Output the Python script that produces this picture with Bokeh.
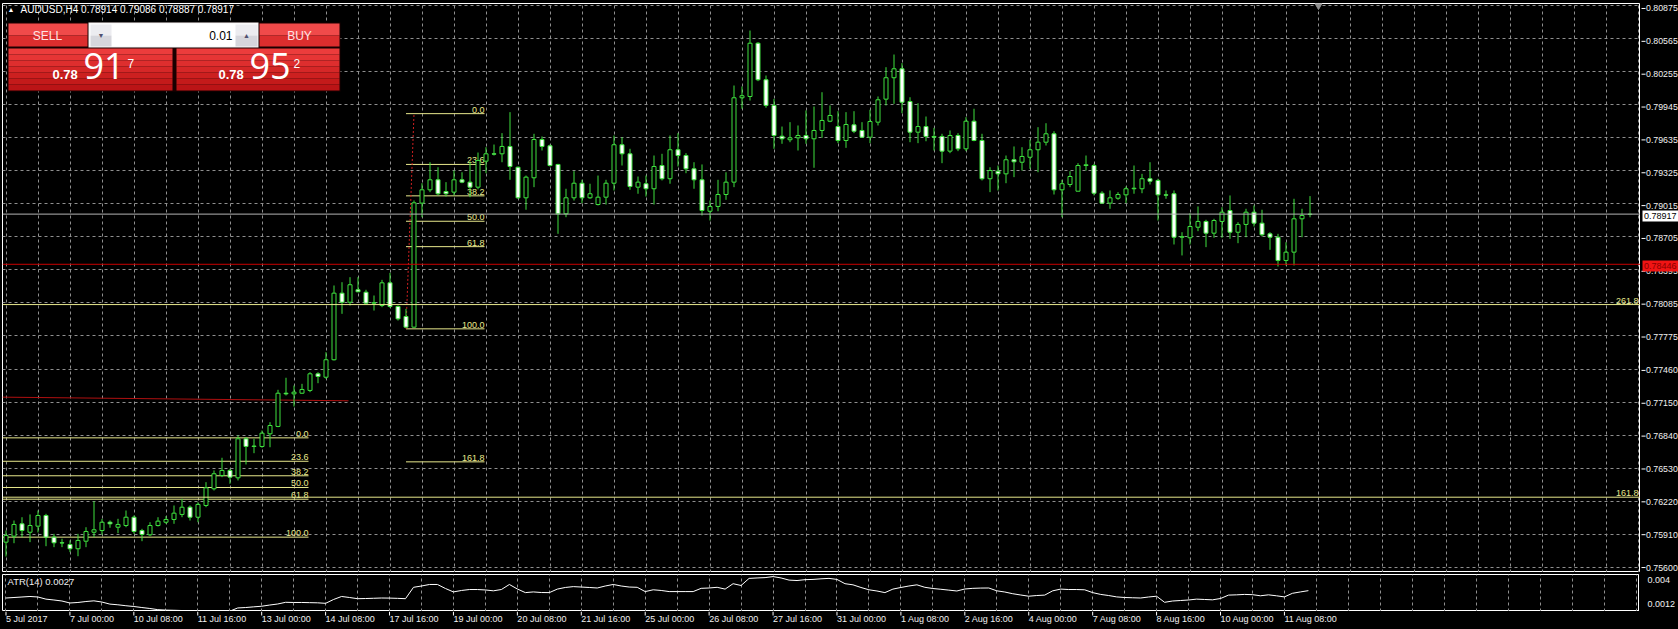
from bokeh.plotting import figure
from bokeh.layouts import column, row
from bokeh.models import (ColumnDataSource, FixedTicker, Label, BoxAnnotation, Span,
                          Range1d, PrintfTickFormatter, GlobalInlineStyleSheet)
from bokeh.core.properties import value
from bokeh.embed import file_html
from bokeh.resources import INLINE

# ---------------- data (AUDUSD H4, 5 Jul 2017 16:00 .. 11 Aug 2017 12:00) ----------------
open_ = [0.75838, 0.75894, 0.76010, 0.75931, 0.75988, 0.76088, 0.75885, 0.75832, 0.75816, 0.75776,
         0.75847, 0.75931, 0.75947, 0.76025, 0.75978, 0.75994, 0.76072, 0.75947, 0.75907, 0.75994,
         0.76025, 0.76051, 0.76098, 0.76166, 0.76072, 0.76182, 0.76339, 0.76464, 0.76511, 0.76442,
         0.76808, 0.76736, 0.76736, 0.76855, 0.76924, 0.77236, 0.77230, 0.77236, 0.77262, 0.77418,
         0.77386, 0.77550, 0.78175, 0.78090, 0.78207, 0.78184, 0.78081, 0.78059, 0.78272, 0.78050,
         0.77956, 0.77856, 0.79020, 0.79145, 0.79239, 0.79129, 0.79123, 0.79239, 0.79217, 0.79170,
         0.79414, 0.79483, 0.79483, 0.79552, 0.79357, 0.79070, 0.79258, 0.79617, 0.79558, 0.79383,
         0.78920, 0.79070, 0.79207, 0.79070, 0.79007, 0.79076, 0.79207, 0.79568, 0.79483, 0.79170,
         0.79202, 0.79155, 0.79373, 0.79249, 0.79521, 0.79467, 0.79342, 0.79239, 0.78944, 0.78989,
         0.79101, 0.79217, 0.80009, 0.80021, 0.80521, 0.80178, 0.79937, 0.79648, 0.79615, 0.79633,
         0.79655, 0.79624, 0.79702, 0.79789, 0.79739, 0.79608, 0.79755, 0.79702, 0.79639, 0.79780,
         0.79996, 0.80197, 0.80281, 0.79974, 0.79686, 0.79739, 0.79646, 0.79646, 0.79508, 0.79655,
         0.79530, 0.79789, 0.79608, 0.79249, 0.79320, 0.79295, 0.79427, 0.79404, 0.79451, 0.79521,
         0.79592, 0.79671, 0.79145, 0.79195, 0.79132, 0.79373, 0.79373, 0.79113, 0.79020, 0.79066,
         0.79098, 0.79155, 0.79155, 0.79249, 0.79233, 0.79098, 0.79108, 0.78700, 0.78695, 0.78794,
         0.78848, 0.78738, 0.78848, 0.78951, 0.78747, 0.78820, 0.78935, 0.78832, 0.78732, 0.78700,
         0.78482, 0.78560, 0.78873, 0.78914]
high = [0.75947, 0.76041, 0.76072, 0.76098, 0.76135, 0.76104, 0.75916, 0.75870, 0.75854, 0.75916,
        0.75978, 0.76222, 0.76057, 0.76041, 0.76057, 0.76135, 0.76088, 0.75963, 0.76025, 0.76072,
        0.76082, 0.76182, 0.76245, 0.76182, 0.76213, 0.76401, 0.76511, 0.76630, 0.76527, 0.76839,
        0.76823, 0.76808, 0.76886, 0.76964, 0.77268, 0.77381, 0.77308, 0.77324, 0.77433, 0.77433,
        0.77621, 0.78247, 0.78278, 0.78325, 0.78325, 0.78207, 0.78153, 0.78300, 0.78366, 0.78059,
        0.78028, 0.79045, 0.79207, 0.79404, 0.79357, 0.79217, 0.79326, 0.79310, 0.79411, 0.79495,
        0.79545, 0.79570, 0.79677, 0.79874, 0.79364, 0.79279, 0.79671, 0.79646, 0.79570, 0.79389,
        0.79155, 0.79320, 0.79239, 0.79202, 0.79279, 0.79239, 0.79655, 0.79639, 0.79530, 0.79270,
        0.79279, 0.79467, 0.79483, 0.79655, 0.79677, 0.79489, 0.79404, 0.79383, 0.79045, 0.79239,
        0.79310, 0.80124, 0.80115, 0.80640, 0.80531, 0.80218, 0.79999, 0.79739, 0.79780, 0.79749,
        0.79890, 0.79927, 0.80061, 0.79937, 0.79883, 0.79874, 0.79883, 0.79780, 0.79896, 0.80021,
        0.80296, 0.80415, 0.80334, 0.80014, 0.79958, 0.79833, 0.79727, 0.79671, 0.79702, 0.79677,
        0.79827, 0.79906, 0.79671, 0.79357, 0.79373, 0.79467, 0.79552, 0.79545, 0.79615, 0.79733,
        0.79770, 0.79695, 0.79239, 0.79320, 0.79395, 0.79467, 0.79389, 0.79132, 0.79139, 0.79123,
        0.79176, 0.79373, 0.79295, 0.79404, 0.79249, 0.79139, 0.79139, 0.78747, 0.78926, 0.78989,
        0.78864, 0.78873, 0.78982, 0.79092, 0.78841, 0.78967, 0.78998, 0.78958, 0.78747, 0.78732,
        0.78653, 0.79061, 0.78967, 0.79086]
low = [0.75703, 0.75828, 0.75885, 0.75838, 0.75929, 0.75800, 0.75791, 0.75791, 0.75744, 0.75706,
       0.75791, 0.75885, 0.75907, 0.75973, 0.75922, 0.75978, 0.75916, 0.75847, 0.75894, 0.75985,
       0.76010, 0.76010, 0.76072, 0.76041, 0.76025, 0.76166, 0.76323, 0.76448, 0.76386, 0.76417,
       0.76567, 0.76673, 0.76724, 0.76729, 0.76917, 0.77215, 0.77111, 0.77231, 0.77246, 0.77330,
       0.77371, 0.77543, 0.77981, 0.78059, 0.78184, 0.78075, 0.78012, 0.78043, 0.78038, 0.77918,
       0.77850, 0.77850, 0.78888, 0.79123, 0.79092, 0.79082, 0.79092, 0.79207, 0.79076, 0.79150,
       0.79301, 0.79467, 0.79404, 0.79239, 0.79061, 0.78958, 0.79170, 0.79514, 0.79364, 0.78732,
       0.78888, 0.79045, 0.79020, 0.79061, 0.78998, 0.79007, 0.79139, 0.79373, 0.79145, 0.79108,
       0.79082, 0.79007, 0.79233, 0.79202, 0.79364, 0.79301, 0.79155, 0.78904, 0.78857, 0.78944,
       0.79051, 0.79170, 0.79906, 0.79983, 0.80165, 0.79915, 0.79530, 0.79577, 0.79592, 0.79514,
       0.79577, 0.79352, 0.79633, 0.79780, 0.79583, 0.79539, 0.79677, 0.79633, 0.79583, 0.79749,
       0.79937, 0.79952, 0.79864, 0.79592, 0.79583, 0.79601, 0.79514, 0.79395, 0.79489, 0.79508,
       0.79508, 0.79601, 0.79233, 0.79123, 0.79139, 0.79207, 0.79264, 0.79326, 0.79342, 0.79310,
       0.79561, 0.79101, 0.78888, 0.79170, 0.79132, 0.79326, 0.79092, 0.79020, 0.78967, 0.79051,
       0.79020, 0.79108, 0.79113, 0.79195, 0.78857, 0.79061, 0.78632, 0.78529, 0.78632, 0.78757,
       0.78607, 0.78695, 0.78695, 0.78685, 0.78644, 0.78700, 0.78801, 0.78707, 0.78582, 0.78425,
       0.78435, 0.78435, 0.78700, 0.78887]
close = [0.75901, 0.76004, 0.75947, 0.75994, 0.76088, 0.75885, 0.75832, 0.75830, 0.75776, 0.75854,
         0.75938, 0.75954, 0.76025, 0.76010, 0.76004, 0.76072, 0.75938, 0.75910, 0.75994, 0.76035,
         0.76051, 0.76110, 0.76166, 0.76072, 0.76192, 0.76348, 0.76480, 0.76511, 0.76448, 0.76808,
         0.76736, 0.76740, 0.76861, 0.76933, 0.77236, 0.77230, 0.77246, 0.77271, 0.77418, 0.77393,
         0.77550, 0.78175, 0.78090, 0.78254, 0.78188, 0.78081, 0.78085, 0.78272, 0.78050, 0.77934,
         0.77856, 0.79023, 0.79145, 0.79239, 0.79108, 0.79108, 0.79239, 0.79217, 0.79170, 0.79420,
         0.79483, 0.79480, 0.79552, 0.79364, 0.79070, 0.79264, 0.79617, 0.79552, 0.79373, 0.78920,
         0.79070, 0.79207, 0.79070, 0.79108, 0.79076, 0.79207, 0.79568, 0.79483, 0.79176, 0.79217,
         0.79155, 0.79364, 0.79249, 0.79521, 0.79467, 0.79342, 0.79239, 0.78951, 0.78989, 0.79101,
         0.79217, 0.80009, 0.80028, 0.80521, 0.80178, 0.79937, 0.79655, 0.79624, 0.79633, 0.79655,
         0.79624, 0.79702, 0.79796, 0.79843, 0.79608, 0.79758, 0.79695, 0.79639, 0.79786, 0.79990,
         0.80197, 0.80281, 0.79967, 0.79686, 0.79739, 0.79646, 0.79639, 0.79508, 0.79655, 0.79530,
         0.79789, 0.79608, 0.79249, 0.79326, 0.79295, 0.79427, 0.79408, 0.79458, 0.79521, 0.79592,
         0.79671, 0.79145, 0.79202, 0.79270, 0.79373, 0.79380, 0.79113, 0.79020, 0.79070, 0.79101,
         0.79155, 0.79160, 0.79249, 0.79226, 0.79098, 0.79095, 0.78700, 0.78705, 0.78801, 0.78848,
         0.78738, 0.78857, 0.78935, 0.78747, 0.78820, 0.78935, 0.78832, 0.78723, 0.78700, 0.78482,
         0.78560, 0.78873, 0.78904, 0.78917]
atr14 = [0.00184, 0.00190, 0.00196, 0.00202, 0.00196, 0.00171, 0.00161, 0.00149, 0.00126, 0.00132,
         0.00143, 0.00151, 0.00137, 0.00113, 0.00105, 0.00094, 0.00085, 0.00073, 0.00062, 0.00048,
         0.00043, 0.00041, 0.00038, 0.00035, 0.00030, 0.00027, 0.00021, 0.00027, 0.00030, 0.00068,
         0.00073, 0.00081, 0.00088, 0.00102, 0.00114, 0.00134, 0.00132, 0.00132, 0.00130, 0.00128,
         0.00122, 0.00167, 0.00202, 0.00190, 0.00176, 0.00178, 0.00181, 0.00184, 0.00183, 0.00180,
         0.00176, 0.00309, 0.00324, 0.00342, 0.00342, 0.00295, 0.00255, 0.00272, 0.00283, 0.00283,
         0.00278, 0.00268, 0.00283, 0.00342, 0.00289, 0.00247, 0.00255, 0.00248, 0.00247, 0.00288,
         0.00307, 0.00317, 0.00312, 0.00307, 0.00301, 0.00324, 0.00342, 0.00324, 0.00312, 0.00309,
         0.00259, 0.00280, 0.00272, 0.00259, 0.00259, 0.00259, 0.00259, 0.00297, 0.00301, 0.00309,
         0.00288, 0.00351, 0.00330, 0.00413, 0.00418, 0.00422, 0.00434, 0.00418, 0.00393, 0.00388,
         0.00398, 0.00401, 0.00408, 0.00413, 0.00401, 0.00351, 0.00338, 0.00307, 0.00280, 0.00266,
         0.00247, 0.00288, 0.00307, 0.00324, 0.00338, 0.00309, 0.00295, 0.00286, 0.00276, 0.00266,
         0.00289, 0.00297, 0.00300, 0.00301, 0.00268, 0.00254, 0.00234, 0.00219, 0.00205, 0.00213,
         0.00218, 0.00268, 0.00288, 0.00283, 0.00283, 0.00280, 0.00247, 0.00226, 0.00213, 0.00197,
         0.00190, 0.00187, 0.00184, 0.00196, 0.00205, 0.00134, 0.00149, 0.00155, 0.00161, 0.00171,
         0.00167, 0.00163, 0.00178, 0.00218, 0.00221, 0.00226, 0.00223, 0.00210, 0.00221, 0.00210,
         0.00197, 0.00239, 0.00255, 0.00270]

time_labels = ["5 Jul 2017", "7 Jul 00:00", "10 Jul 08:00", "11 Jul 16:00", "13 Jul 00:00",
               "14 Jul 08:00", "17 Jul 16:00", "19 Jul 00:00", "20 Jul 08:00", "21 Jul 16:00",
               "25 Jul 00:00", "26 Jul 08:00", "27 Jul 16:00", "31 Jul 00:00", "1 Aug 08:00",
               "2 Aug 16:00", "4 Aug 00:00", "7 Aug 08:00", "8 Aug 16:00", "10 Aug 00:00",
               "11 Aug 08:00"]
label_every = 8          # one time label every 8 H4 bars
price_labels = ["0.80875", "0.80565", "0.80255", "0.79945", "0.79635", "0.79325", "0.79015",
                "0.78705", "0.78395", "0.78085", "0.77775", "0.77460", "0.77150", "0.76840",
                "0.76530", "0.76220", "0.75910", "0.75600"]
atr_labels = [0.004, 0.0012]

bid_price = 0.78917
alert_price = 0.78446
fibA_high, fibA_low = 0.76817, 0.75885
fibA_levels = [0.0, 23.6, 38.2, 50.0, 61.8, 100.0]
fibB_high, fibB_low = 0.79860, 0.77840
fibB_levels = [0.0, 23.6, 38.2, 50.0, 61.8, 100.0, 161.8]
fibC_levels = ["161.8", "261.8"]
fibC_prices = [0.76260, 0.78068]
trend_prices = [0.77199, 0.77165]

header = "AUDUSD,H4  0.78914 0.79086 0.78887 0.78917"
atr_title = "ATR(14) 0.0027"
sell_price = ("0.78", "91", "7")
buy_price = ("0.78", "95", "2")
lot = "0.01"

# ---------------- page geometry (pixels) ----------------
W, H = 1678, 629
AXW = 38                     # width of the price scale strip
BAR_PX, X0_PX = 8.0, 5.5
FL, FR = 2, W - AXW
MAIN_T, MAIN_B = 3, 572
PX_PER_PRICE, PRICE_Y0 = 10654.0, 0.80922
ATR_T, ATR_B = 574, 611
ATR_PX = 24 / 0.0028


def bx(px):
    return (px - X0_PX) / BAR_PX


def py(y):
    return PRICE_Y0 - y / PX_PER_PRICE


def ay(y):
    return 0.004 - (y - 579) / ATR_PX


FONT_NAME = "Liberation Sans"
FONT = value(FONT_NAME)
GREEN = "#3ee03e"
GRID = "#8f8f8f"
FIBC = "#e8e88c"
TXT = "#f0f0f0"
n = len(close)
idx = list(range(n))

css = GlobalInlineStyleSheet(css="html, body {margin:0 !important; padding:0 !important; background:#000; overflow:hidden;}")


def dark(fig):
    fig.background_fill_color = "black"
    fig.border_fill_color = "black"
    fig.toolbar.logo = None
    return fig


# ---------------- main price panel ----------------
p = dark(figure(width=FR, height=MAIN_B, x_range=Range1d(bx(FL), bx(FR)),
                y_range=Range1d(py(MAIN_B), py(MAIN_T)), output_backend="svg",
                toolbar_location=None, x_axis_location=None, y_axis_location=None,
                min_border_left=FL, min_border_right=0, min_border_top=MAIN_T, min_border_bottom=0,
                outline_line_color="white", outline_line_width=1))

ticks = [float(t) for t in price_labels]
p.ygrid.ticker = FixedTicker(ticks=ticks)
p.xgrid.ticker = FixedTicker(ticks=list(range(0, 208, 4)))
for g in (p.xgrid, p.ygrid):
    g.grid_line_color = GRID
    g.grid_line_dash = "3 3"
    g.grid_line_width = 1

# horizontal lines
p.add_layout(Span(location=alert_price, dimension="width", line_color="#c80000", line_width=1))
p.add_layout(Span(location=bid_price, dimension="width", line_color="#b4b4b4", line_width=1))

# fibonacci C (full width rays)
for pr in fibC_prices:
    p.add_layout(Span(location=pr, dimension="width", line_color=FIBC, line_width=1))
p.text(x=[bx(FR - 2)] * 2, y=fibC_prices, text=fibC_levels, text_align="right",
       text_baseline="bottom", text_color=FIBC, text_font=FONT, text_font_size="9px", y_offset=-1)

# fibonacci A
fa_prices = [fibA_high - lv / 100 * (fibA_high - fibA_low) for lv in fibA_levels]
fa_x0, fa_x1 = bx(FL), bx(308)
p.segment(x0=[fa_x0] * len(fa_prices), x1=[fa_x1] * len(fa_prices), y0=fa_prices, y1=fa_prices,
          line_color=FIBC, line_width=1)
p.text(x=[fa_x1] * len(fa_prices), y=fa_prices, text=[f"{lv:.1f}" for lv in fibA_levels],
       text_align="right", text_baseline="bottom", text_color=FIBC, text_font=FONT,
       text_font_size="9px", y_offset=-1)

# fibonacci B
fb_prices = [fibB_high - lv / 100 * (fibB_high - fibB_low) for lv in fibB_levels]
fb_x0, fb_x1 = 50, bx(484)
p.segment(x0=[fb_x0] * len(fb_prices), x1=[fb_x1] * len(fb_prices), y0=fb_prices, y1=fb_prices,
          line_color=FIBC, line_width=1)
p.text(x=[fb_x1] * len(fb_prices), y=fb_prices, text=[f"{lv:.1f}" for lv in fibB_levels],
       text_align="right", text_baseline="bottom", text_color=FIBC, text_font=FONT,
       text_font_size="9px", y_offset=-1)
p.line(x=[50, 51], y=[fibB_low, fibB_high], line_color="#d02020", line_dash="2 2", line_width=1)

# red trend line (left)
p.line(x=[bx(FL), bx(348)], y=trend_prices, line_color="#b01010", line_width=1)

# candles
top = [max(o, c) for o, c in zip(open_, close)]
bot = [min(o, c) for o, c in zip(open_, close)]
fill = ["black" if c >= o else "white" for o, c in zip(open_, close)]
src = ColumnDataSource(dict(x=idx, high=high, low=low, top=top, bottom=bot, fill=fill))
p.segment(x0="x", x1="x", y0="high", y1="low", line_color=GREEN, line_width=1, source=src)
p.vbar(x="x", width=4 / BAR_PX, top="top", bottom="bottom", fill_color="fill",
       line_color=GREEN, line_width=1, source=src)

# header
p.add_layout(Label(x=bx(7), y=py(9), text="▲", text_align="left", text_baseline="middle",
                   text_color="white", text_font=FONT_NAME, text_font_size="7px"))
p.add_layout(Label(x=bx(20), y=py(9), text=header, text_align="left", text_baseline="middle",
                   text_color="white", text_font=FONT_NAME, text_font_size="10px"))
p.scatter(x=[bx(1318)], y=[py(5)], marker="inverted_triangle", size=7,
          fill_color="#909090", line_color="#909090")


# one-click trading panel
def box(l, t, r, b, color):
    p.add_layout(BoxAnnotation(left=bx(l), right=bx(r), top=py(t), bottom=py(b),
                               fill_color=color, fill_alpha=1, line_alpha=0, level="overlay"))


def label(x, y, text, size, color, align="left", baseline="middle", style="normal", font=FONT_NAME):
    p.add_layout(Label(x=bx(x), y=py(y), text=text, text_align=align, text_baseline=baseline,
                       text_color=color, text_font=font, text_font_size=size,
                       text_font_style=style, level="overlay"))


box(7, 22, 340, 91, "#1a0000")
for l, r in ((8, 87), (259, 339)):
    box(l, 23, r, 35, "#f04a4a")
    box(l, 35, r, 46, "#dc2e2e")
box(88, 22, 258, 47, "#f4f4f4")
box(89, 23, 257, 46, "#ffffff")
for l, r in ((90, 111), (235, 257)):
    box(l, 24, r, 35, "#ececf0")
    box(l, 35, r, 46, "#d6d6dc")
shades = ["#ec3c3c", "#e63535", "#de2e2e", "#d52727", "#cc2020", "#c41a1a", "#bb1416"]
for i, col in enumerate(shades):
    t0 = 48 + i * 6
    box(8, t0, 172, t0 + 6, col)
    box(176, t0, 339, t0 + 6, col)
label(47, 35, "SELL", "12px", "#ffe4e4", align="center")
label(299, 35, "BUY", "12px", "#ffe4e4", align="center")
label(232, 35, lot, "12px", "black", align="right")
label(100.5, 35, "▼", "7px", "#505070", align="center")
label(246, 35, "▲", "7px", "#505070", align="center")
for (a, b, c), x0 in ((sell_price, 52), (buy_price, 218)):
    label(x0, 73.5, a, "13px", "white", baseline="alphabetic", style="bold")
    label(x0 + 31, 65.5, b, "36px", "white", baseline="alphabetic", font="Open Sans")
    label(x0 + 75, 58, c, "12px", "white", baseline="top")

# ---------------- price scale strip (right of the main panel) ----------------
pa = dark(figure(width=AXW, height=MAIN_B, x_range=Range1d(0, AXW),
                 y_range=Range1d(py(MAIN_B), py(0)),
                 output_backend="svg", toolbar_location=None, x_axis_location=None,
                 y_axis_location=None, min_border_left=0, min_border_right=0,
                 min_border_top=0, min_border_bottom=0, outline_line_color=None))
pa.xgrid.grid_line_color = None
pa.ygrid.grid_line_color = None
pa.segment(x0=[1] * len(ticks), x1=[5] * len(ticks), y0=ticks, y1=ticks, line_color="white")
pa.text(x=[5.5] * len(ticks), y=ticks, text=price_labels, text_align="left",
        text_baseline="middle", text_color=TXT, text_font=FONT, text_font_size="8.8px")
half = 5.5 / PX_PER_PRICE
pa.quad(left=[2, 2], right=[AXW, AXW], top=[bid_price + half, alert_price + half],
        bottom=[bid_price - half, alert_price - half], fill_color=["white", "#f01414"],
        line_color=None)
pa.text(x=[3.5, 3.5], y=[bid_price, alert_price], text=[f"{bid_price:.5f}", f"{alert_price:.5f}"],
        text_align="left", text_baseline="middle", text_color=["black", "#8a0000"],
        text_font=FONT, text_font_size="9px")

# ---------------- ATR sub-window ----------------
q = dark(figure(width=W, height=ATR_B - MAIN_B, x_range=p.x_range,
                y_range=Range1d(ay(ATR_B), ay(ATR_T)), output_backend="svg",
                toolbar_location=None, y_axis_location="right", x_axis_location=None,
                min_border_left=FL, min_border_right=AXW, min_border_top=ATR_T - MAIN_B,
                min_border_bottom=0, outline_line_color="white", outline_line_width=1))
q.line(x=idx, y=atr14, line_color="white", line_width=1)

q.yaxis.ticker = FixedTicker(ticks=atr_labels)
q.yaxis.formatter = PrintfTickFormatter(format="%g")
q.yaxis.axis_line_color = "white"
q.yaxis.major_tick_line_color = None
q.yaxis.minor_tick_line_color = None
q.yaxis.major_label_standoff = 3
q.yaxis.major_label_text_color = TXT
q.yaxis.major_label_text_font = FONT_NAME
q.yaxis.major_label_text_font_size = "9px"

q.ygrid.grid_line_color = None
q.xgrid.ticker = FixedTicker(ticks=list(range(0, 208, 4)))
q.xgrid.grid_line_color = GRID
q.xgrid.grid_line_dash = "3 3"
q.add_layout(Label(x=bx(7), y=ay(580.5), text=atr_title, text_align="left",
                   text_baseline="middle", text_color=TXT, text_font=FONT_NAME,
                   text_font_size="9.5px"))

# ---------------- time scale strip ----------------
tick_bars = [i * label_every for i in range(len(time_labels))]
t = dark(figure(width=W, height=H - ATR_B, x_range=p.x_range, y_range=Range1d(H, ATR_B),
                output_backend="svg", toolbar_location=None, x_axis_location=None,
                y_axis_location=None, min_border_left=FL, min_border_right=AXW,
                min_border_top=0, min_border_bottom=0, outline_line_color=None))
t.xgrid.grid_line_color = None
t.ygrid.grid_line_color = None
t.segment(x0=tick_bars, x1=tick_bars, y0=[ATR_B] * len(tick_bars), y1=[ATR_B + 4] * len(tick_bars),
          line_color="white")
t.text(x=tick_bars, y=[618.6] * len(tick_bars), text=time_labels, text_align="left",
       text_baseline="middle", text_color=TXT, text_font=FONT, text_font_size="9px")

layout = column(row(p, pa, spacing=0), q, t, spacing=0, stylesheets=[css])
open("out.html", "w").write(file_html(layout, INLINE))
